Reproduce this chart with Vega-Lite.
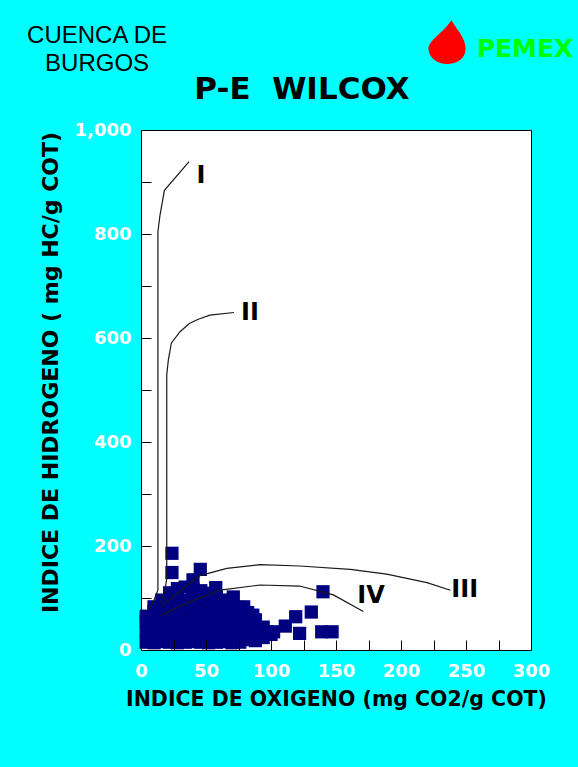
{
  "$schema": "https://vega.github.io/schema/vega-lite/v6.json",
  "autosize": {"type": "none"},
  "width": 390,
  "height": 520,
  "padding": {"left": 141, "top": 130, "right": 47, "bottom": 117},
  "background": "#00FFFF",
  "config": {
    "view": {"fill": "white", "stroke": "black", "strokeWidth": 1},
    "font": "DejaVu Sans"
  },
  "datasets": {
    "samples": [
      {"oi": 4, "hi": 15}, {"oi": 4, "hi": 35}, {"oi": 4, "hi": 55}, {"oi": 4, "hi": 65},
      {"oi": 10, "hi": 14}, {"oi": 10, "hi": 34}, {"oi": 10, "hi": 55}, {"oi": 10, "hi": 74}, {"oi": 10, "hi": 83},
      {"oi": 16, "hi": 16}, {"oi": 16, "hi": 36}, {"oi": 16, "hi": 56}, {"oi": 16, "hi": 76}, {"oi": 16, "hi": 96},
      {"oi": 22, "hi": 15}, {"oi": 22, "hi": 35}, {"oi": 22, "hi": 55}, {"oi": 22, "hi": 75}, {"oi": 22, "hi": 95}, {"oi": 22, "hi": 110},
      {"oi": 28, "hi": 14}, {"oi": 28, "hi": 36}, {"oi": 28, "hi": 54}, {"oi": 28, "hi": 76}, {"oi": 28, "hi": 96}, {"oi": 28, "hi": 118},
      {"oi": 34, "hi": 15}, {"oi": 34, "hi": 35}, {"oi": 34, "hi": 55}, {"oi": 34, "hi": 75}, {"oi": 34, "hi": 95}, {"oi": 34, "hi": 121},
      {"oi": 40, "hi": 16}, {"oi": 40, "hi": 34}, {"oi": 40, "hi": 56}, {"oi": 40, "hi": 74}, {"oi": 40, "hi": 96}, {"oi": 40, "hi": 117},
      {"oi": 46, "hi": 15}, {"oi": 46, "hi": 35}, {"oi": 46, "hi": 55}, {"oi": 46, "hi": 76}, {"oi": 46, "hi": 94}, {"oi": 46, "hi": 114},
      {"oi": 52, "hi": 14}, {"oi": 52, "hi": 36}, {"oi": 52, "hi": 55}, {"oi": 52, "hi": 75}, {"oi": 52, "hi": 95}, {"oi": 52, "hi": 109},
      {"oi": 58, "hi": 15}, {"oi": 58, "hi": 35}, {"oi": 58, "hi": 56}, {"oi": 58, "hi": 74}, {"oi": 58, "hi": 95}, {"oi": 58, "hi": 102},
      {"oi": 64, "hi": 16}, {"oi": 64, "hi": 35}, {"oi": 64, "hi": 55}, {"oi": 64, "hi": 76}, {"oi": 64, "hi": 96},
      {"oi": 70, "hi": 14}, {"oi": 70, "hi": 36}, {"oi": 70, "hi": 54}, {"oi": 70, "hi": 75}, {"oi": 70, "hi": 88},
      {"oi": 76, "hi": 15}, {"oi": 76, "hi": 35}, {"oi": 76, "hi": 56}, {"oi": 76, "hi": 75}, {"oi": 76, "hi": 82},
      {"oi": 82, "hi": 20}, {"oi": 82, "hi": 40}, {"oi": 82, "hi": 60}, {"oi": 82, "hi": 72},
      {"oi": 88, "hi": 18}, {"oi": 88, "hi": 38}, {"oi": 88, "hi": 58},
      {"oi": 94, "hi": 24}, {"oi": 94, "hi": 44},
      {"oi": 100, "hi": 30},
      {"oi": 23.8, "hi": 186}, {"oi": 23.8, "hi": 149}, {"oi": 45.6, "hi": 155}, {"oi": 40, "hi": 135},
      {"oi": 57.5, "hi": 120}, {"oi": 140, "hi": 112}, {"oi": 131, "hi": 73}, {"oi": 119, "hi": 64},
      {"oi": 111, "hi": 46}, {"oi": 122, "hi": 32}, {"oi": 139, "hi": 35}, {"oi": 147, "hi": 35},
      {"oi": 81, "hi": 30}, {"oi": 102, "hi": 35}, {"oi": 97, "hi": 35}, {"oi": 71, "hi": 102},
      {"oi": 79, "hi": 83}, {"oi": 86, "hi": 67}
    ],
    "curves": [
      {"curve": "I", "seq": 1, "oi": 5.6, "hi": 77},
      {"curve": "I", "seq": 2, "oi": 9.5, "hi": 93},
      {"curve": "I", "seq": 3, "oi": 13, "hi": 115},
      {"curve": "I", "seq": 4, "oi": 13, "hi": 804},
      {"curve": "I", "seq": 5, "oi": 14.6, "hi": 836},
      {"curve": "I", "seq": 6, "oi": 18, "hi": 884},
      {"curve": "I", "seq": 7, "oi": 37, "hi": 939},
      {"curve": "II", "seq": 1, "oi": 15.2, "hi": 93},
      {"curve": "II", "seq": 2, "oi": 18.5, "hi": 115},
      {"curve": "II", "seq": 3, "oi": 19.8, "hi": 138},
      {"curve": "II", "seq": 4, "oi": 19.8, "hi": 529},
      {"curve": "II", "seq": 5, "oi": 21, "hi": 557},
      {"curve": "II", "seq": 6, "oi": 23.3, "hi": 590},
      {"curve": "II", "seq": 7, "oi": 30, "hi": 612},
      {"curve": "II", "seq": 8, "oi": 37.2, "hi": 628},
      {"curve": "II", "seq": 9, "oi": 44, "hi": 636},
      {"curve": "II", "seq": 10, "oi": 53, "hi": 644},
      {"curve": "II", "seq": 11, "oi": 71.5, "hi": 649},
      {"curve": "III", "seq": 1, "oi": 15.2, "hi": 83},
      {"curve": "III", "seq": 2, "oi": 37.7, "hi": 129},
      {"curve": "III", "seq": 3, "oi": 45.4, "hi": 143},
      {"curve": "III", "seq": 4, "oi": 66, "hi": 157},
      {"curve": "III", "seq": 5, "oi": 91.5, "hi": 164},
      {"curve": "III", "seq": 6, "oi": 122, "hi": 161.5},
      {"curve": "III", "seq": 7, "oi": 161, "hi": 155},
      {"curve": "III", "seq": 8, "oi": 189, "hi": 146},
      {"curve": "III", "seq": 9, "oi": 220, "hi": 129.5},
      {"curve": "III", "seq": 10, "oi": 238, "hi": 115},
      {"curve": "IV", "seq": 1, "oi": 15.9, "hi": 67},
      {"curve": "IV", "seq": 2, "oi": 37.7, "hi": 93},
      {"curve": "IV", "seq": 3, "oi": 61, "hi": 115},
      {"curve": "IV", "seq": 4, "oi": 91.5, "hi": 125},
      {"curve": "IV", "seq": 5, "oi": 122, "hi": 123},
      {"curve": "IV", "seq": 6, "oi": 148, "hi": 106},
      {"curve": "IV", "seq": 7, "oi": 171, "hi": 74}
    ],
    "curveLabels": [
      {"label": "I", "oi": 46.2, "hi": 911},
      {"label": "II", "oi": 83.8, "hi": 648},
      {"label": "III", "oi": 249, "hi": 115},
      {"label": "IV", "oi": 177, "hi": 104}
    ],
    "chartTitle": [{"label": "P-E\u00a0\u00a0WILCOX", "oi": 123.8, "hi": 1059.6}],
    "basin": [{"label": ["CUENCA DE", "BURGOS"], "oi": -33.8, "hi": 1168}],
    "brand": [{"label": "PEMEX", "oi": 258.2, "hi": 1141}],
    "logo": [{"label": "logo", "oi": 234.6, "hi": 1169}]
  },
  "encoding": {
    "x": {
      "field": "oi", "type": "quantitative",
      "scale": {"domain": [0, 300], "nice": false},
      "axis": {
        "title": "INDICE DE OXIGENO (mg CO2/g COT)",
        "values": [0, 25, 50, 75, 100, 125, 150, 175, 200, 225, 250, 275, 300],
        "labelExpr": "datum.value % 50 === 0 ? format(datum.value, ',') : ''",
        "tickSize": -10, "tickColor": "black", "tickWidth": 1,
        "labelPadding": 22, "labelColor": "white", "labelFont": "DejaVu Sans", "labelFontWeight": "bold", "labelFontSize": 18,
        "labelOverlap": false, "labelFlush": false,
        "domain": false, "grid": false, "zindex": 1,
        "titleFont": "DejaVu Sans", "titleFontWeight": "bold", "titleFontSize": 20.5, "titleColor": "black", "titlePadding": 9
      }
    },
    "y": {
      "field": "hi", "type": "quantitative",
      "scale": {"domain": [0, 1000], "nice": false},
      "axis": {
        "title": "INDICE DE HIDROGENO ( mg HC/g COT)",
        "values": [0, 100, 200, 300, 400, 500, 600, 700, 800, 900, 1000],
        "labelExpr": "datum.value % 200 === 0 ? format(datum.value, ',') : ''",
        "tickSize": -10, "tickColor": "black", "tickWidth": 1,
        "labelPadding": 20, "labelColor": "white", "labelFont": "DejaVu Sans", "labelFontWeight": "bold", "labelFontSize": 18,
        "labelOverlap": false, "labelFlush": false,
        "domain": false, "grid": false, "zindex": 1,
        "titleFont": "DejaVu Sans", "titleFontWeight": "bold", "titleFontSize": 22, "titleColor": "black", "titlePadding": 12, "titleY": 242
      }
    }
  },
  "layer": [
    {
      "data": {"name": "samples"},
      "mark": {"type": "point", "shape": "square", "filled": true, "opacity": 1, "color": "#000080", "size": 175}
    },
    {
      "data": {"name": "curves"},
      "mark": {"type": "line", "color": "#1a1a1a", "strokeWidth": 1.2},
      "encoding": {
        "detail": {"field": "curve"},
        "order": {"field": "seq", "type": "quantitative"}
      }
    },
    {
      "data": {"name": "curveLabels"},
      "mark": {"type": "text", "font": "DejaVu Sans", "fontWeight": "bold", "fontSize": 24, "color": "black", "align": "center", "baseline": "middle"},
      "encoding": {"text": {"field": "label"}}
    },
    {
      "data": {"name": "chartTitle"},
      "mark": {"type": "text", "clip": false, "font": "DejaVu Sans", "fontWeight": "bold", "fontSize": 31, "color": "black", "align": "center", "baseline": "alphabetic"},
      "encoding": {"text": {"field": "label"}}
    },
    {
      "data": {"name": "basin"},
      "mark": {"type": "text", "clip": false, "font": "Liberation Sans", "fontSize": 24, "color": "black", "align": "center", "baseline": "alphabetic", "lineHeight": 28},
      "encoding": {"text": {"field": "label"}}
    },
    {
      "data": {"name": "brand"},
      "mark": {"type": "text", "clip": false, "font": "DejaVu Sans", "fontWeight": "bold", "fontSize": 25, "color": "#00FF00", "align": "left", "baseline": "alphabetic"},
      "encoding": {"text": {"field": "label"}}
    },
    {
      "data": {"name": "logo"},
      "mark": {"type": "point", "clip": false, "filled": true, "opacity": 1, "color": "#FF0000", "size": 1900,
        "shape": "M0.25,-1 C0.5,-0.55 0.9,-0.2 0.9,0.3 C0.9,0.75 0.5,1 0.05,1 C-0.4,1 -0.75,0.75 -0.8,0.35 C-0.85,-0.05 -0.1,-0.45 0.25,-1 Z"}
    }
  ]
}
